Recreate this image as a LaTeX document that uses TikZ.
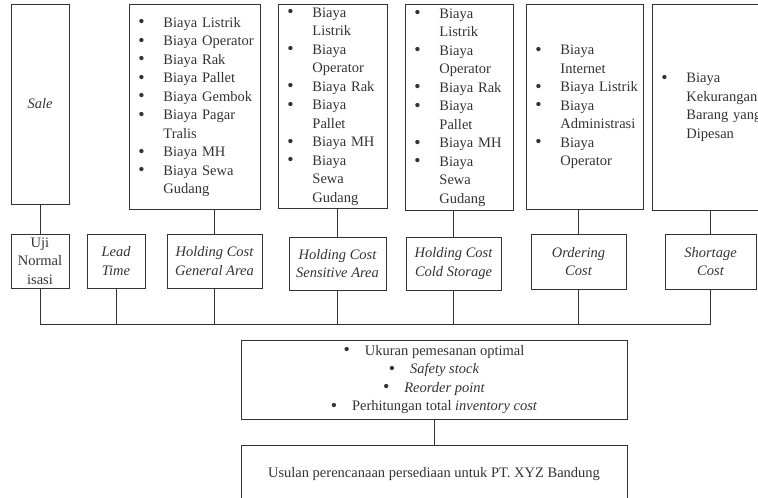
\documentclass[tikz,border=0pt]{standalone}
\usepackage{fontspec}
\setmainfont{Liberation Serif}
\usepackage[]{tikz}
\usetikzlibrary{positioning}
\usepackage[]{xcolor}
\definecolor{ink}{HTML}{333333}
\newcommand{\bdot}{{\fontsize{18}{18}\selectfont\raisebox{-0.6pt}{\textbullet}}}
\newcommand{\blt}[1]{\noindent\hangindent=32pt\hangafter=1\makebox[32pt][l]{\hspace{7pt}\bdot}#1\par}
\newcommand{\cblt}[1]{\bdot\hspace{15pt}#1}
\tikzstyle{box} = [rectangle, draw=ink, line width=0.9pt, text=ink, inner sep=0pt, align=center, font=\fontsize{14.5}{18.5}\selectfont]
\tikzstyle{listbox} = [box, align=left, inner xsep=2pt, anchor=north west]
\tikzset{
	ital/.style={font=\fontsize{14.5}{18.5}\selectfont\itshape},
	wire/.style={draw=ink, line width=0.9pt}
	}

\begin{document}
\begin{tikzpicture}[x=1pt, y=-1pt]
	\useasboundingbox (0,0) rectangle (758,498);
	\node [box, ital, minimum width=58, minimum height=200] (sale) at (40,104) {Sale};
	\node [listbox, text width=127, minimum height=205] (listga) at (129,4) {\blt{Biaya Listrik}\blt{Biaya Operator}\blt{Biaya Rak}\blt{Biaya Pallet}\blt{Biaya Gembok}\blt{Biaya Pagar\newline Tralis}\blt{Biaya MH}\blt{Biaya Sewa\newline Gudang}};
	\node [listbox, text width=105, minimum height=204] (listsa) at (278,4) {\blt{Biaya\newline Listrik}\blt{Biaya\newline Operator}\blt{Biaya Rak}\blt{Biaya\newline Pallet}\blt{Biaya MH}\blt{Biaya\newline Sewa\newline Gudang}};
	\node [listbox, text width=104, minimum height=206] (listcs) at (405,4) {\blt{Biaya\newline Listrik}\blt{Biaya\newline Operator}\blt{Biaya Rak}\blt{Biaya\newline Pallet}\blt{Biaya MH}\blt{Biaya\newline Sewa\newline Gudang}};
	\node [listbox, text width=113, minimum height=205] (listor) at (526,4) {\blt{Biaya\newline Internet}\blt{Biaya Listrik}\blt{Biaya\newline Administrasi}\blt{Biaya\newline Operator}};
	\node [listbox, text width=134, minimum height=206] (listsh) at (652,4) {\blt{Biaya\newline Kekurangan\newline Barang yang\newline Dipesan}};
	
	\node [box, minimum width=58, minimum height=54] (uji) at (40,261) {Uji\\Normal\\isasi};
	\node [box, ital, minimum width=58, minimum height=54] (lead) at (116,261) {Lead\\Time};
	\node [box, ital, minimum width=95, minimum height=54] (hcga) at (214.5,261) {Holding Cost\\General Area};
	\node [box, ital, minimum width=97, minimum height=53] (hcsa) at (337.5,263.5) {Holding Cost\\Sensitive Area};
	\node [box, ital, minimum width=95, minimum height=53] (hccs) at (453.5,263.5) {Holding Cost\\Cold Storage};
	\node [box, ital, minimum width=95, minimum height=55] (order) at (578.5,261.5) {Ordering\\Cost};
	\node [box, ital, minimum width=91, minimum height=55] (short) at (710.5,261.5) {Shortage\\Cost};
	
	\node [box, minimum width=386, minimum height=79] (result) at (434,379.5) {\cblt{Ukuran pemesanan optimal}\\\cblt{\textit{Safety stock}}\\\cblt{\textit{Reorder point}}\\\cblt{Perhitungan total \textit{inventory cost}}};
	\node [box, minimum width=386, minimum height=58] (final) at (434,474) {Usulan perencanaan persediaan untuk PT. XYZ Bandung};
	
	\coordinate (busl) at (40,324);
	\coordinate (busr) at (710.5,324);
	\draw[wire] (uji.north) -- (sale.south);
	\draw[wire] (hcga.north) -- (hcga.north |- listga.south);
	\draw[wire] (hcsa.north) -- (hcsa.north |- listsa.south);
	\draw[wire] (hccs.north) -- (hccs.north |- listcs.south);
	\draw[wire] (order.north) -- (order.north |- listor.south);
	\draw[wire] (short.north) -- (short.north |- listsh.south);
	\foreach \n in {uji,lead,hcga,hcsa,hccs,order,short}
		\draw[wire] (\n.south) -- (\n.south |- busl);
	\draw[wire] (busl) -- (busr);
	\draw[wire] (result.south) -- (final.north);
\end{tikzpicture}
\end{document}
